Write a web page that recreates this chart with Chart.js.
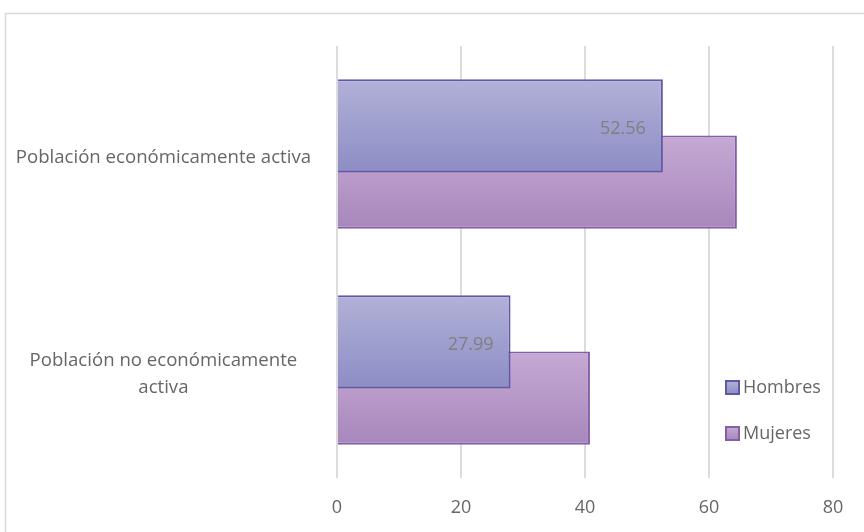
<!DOCTYPE html>
<html>
<head>
<meta charset="utf-8">
<script src="https://cdn.jsdelivr.net/npm/chart.js@4.4.0/dist/chart.umd.min.js"></script>
<style>
  html, body { margin: 0; padding: 0; background: #fff; }
  .wrap { position: relative; width: 864px; height: 532px; }
</style>
</head>
<body>
<div class="wrap"><canvas id="myChart" width="864" height="532"></canvas></div>
<script>
const categories = [
  "Población económicamente activa",
  ["Población no económicamente", "activa"],
];
const seriesNames = ["Hombres", "Mujeres"];
const hombres = [52.56, 27.99];
const mujeres = [64.5, 40.8];
const xTicks = [0, 20, 40, 60, 80];

const FONT = "'Open Sans', sans-serif";
const TEXT = "#666666";

// [top, bottom, border]
const palette = [
  ["#b1b1d8", "#8d8dc5", "#5e58a8"],
  ["#c6a9d4", "#a887bc", "#8560a8"],
];

function barGradient(ctx, top, bottom, colors) {
  const g = ctx.createLinearGradient(0, top, 0, bottom);
  g.addColorStop(0, colors[0]);
  g.addColorStop(1, colors[1]);
  return g;
}

// gradient per bar, top light -> bottom dark
const gradientBars = {
  id: "gradientBars",
  beforeDatasetsDraw(chart) {
    const ctx = chart.ctx;
    chart.data.datasets.forEach((ds, di) => {
      const meta = chart.getDatasetMeta(di);
      meta.data.forEach((bar) => {
        const { y, height } = bar.getProps(["y", "height"], true);
        bar.options = Object.assign({}, bar.options, {
          backgroundColor: barGradient(ctx, y - height / 2, y + height / 2, palette[di]),
        });
      });
    });
  },
};

// value labels, inside end of Hombres bars
const valueLabels = {
  id: "valueLabels",
  afterDatasetsDraw(chart) {
    const ctx = chart.ctx;
    const meta = chart.getDatasetMeta(0);
    ctx.save();
    ctx.font = "18px " + FONT;
    ctx.fillStyle = "#7f7f7f";
    ctx.textAlign = "right";
    ctx.textBaseline = "middle";
    meta.data.forEach((bar, i) => {
      ctx.fillText(hombres[i].toFixed(2), bar.x - 17, bar.y + 3);
    });
    ctx.restore();
  },
};

// legend drawn inside the plot, lower right
const innerLegend = {
  id: "innerLegend",
  afterDraw(chart) {
    const ctx = chart.ctx;
    const area = chart.chartArea;
    const x = area.right - 107;
    const rows = [area.bottom - 97, area.bottom - 51];
    ctx.save();
    ctx.font = "18px " + FONT;
    ctx.textBaseline = "middle";
    ctx.textAlign = "left";
    seriesNames.forEach((name, i) => {
      const y = rows[i];
      ctx.fillStyle = barGradient(ctx, y, y + 13, palette[i]);
      ctx.fillRect(x, y, 13, 13);
      ctx.strokeStyle = palette[i][2];
      ctx.lineWidth = 2;
      ctx.strokeRect(x, y, 13, 13);
      ctx.fillStyle = TEXT;
      ctx.fillText(name, x + 17, y + 7);
    });
    ctx.restore();
  },
};

// outer frame of the chart object
const frame = {
  id: "frame",
  beforeDraw(chart) {
    const ctx = chart.ctx;
    ctx.save();
    ctx.strokeStyle = "#d9d9d9";
    ctx.lineWidth = 1.5;
    ctx.strokeRect(5.5, 13.5, 1000, 1000);
    ctx.restore();
  },
};

new Chart(document.getElementById("myChart"), {
  type: "bar",
  data: {
    labels: categories,
    datasets: [
      {
        label: seriesNames[0],
        data: hombres,
        backgroundColor: palette[0][1],
        borderColor: palette[0][2],
        borderWidth: 2,
      },
      {
        label: seriesNames[1],
        data: mujeres,
        backgroundColor: palette[1][1],
        borderColor: palette[1][2],
        borderWidth: 2,
      },
    ],
  },
  options: {
    indexAxis: "y",
    responsive: false,
    animation: false,
    devicePixelRatio: 1,
    categoryPercentage: 0.52,
    barPercentage: 1.66,
    layout: { padding: { top: 46, right: 31, bottom: 13, left: 0 } },
    plugins: {
      legend: { display: false },
      tooltip: { enabled: false },
    },
    scales: {
      x: {
        min: 0,
        max: 80,
        afterBuildTicks: (scale) => {
          scale.ticks = xTicks.map((v) => ({ value: v }));
        },
        afterFit: (scale) => {
          scale.height = 41;
        },
        grid: { color: "#dcdcdc", lineWidth: 2, drawTicks: false },
        border: { display: false },
        ticks: {
          padding: 19,
          color: TEXT,
          font: { family: FONT, size: 18 },
        },
      },
      y: {
        grid: { display: false },
        border: { display: false },
        afterFit: (scale) => {
          scale.width = 337;
          scale.paddingTop = 0;
          scale.paddingBottom = 0;
        },
        ticks: {
          padding: 18,
          labelOffset: 4,
          crossAlign: "center",
          color: TEXT,
          font: { family: FONT, size: 18.6, lineHeight: 1.42 },
        },
      },
    },
  },
  plugins: [frame, gradientBars, valueLabels, innerLegend],
});
</script>
</body>
</html>
